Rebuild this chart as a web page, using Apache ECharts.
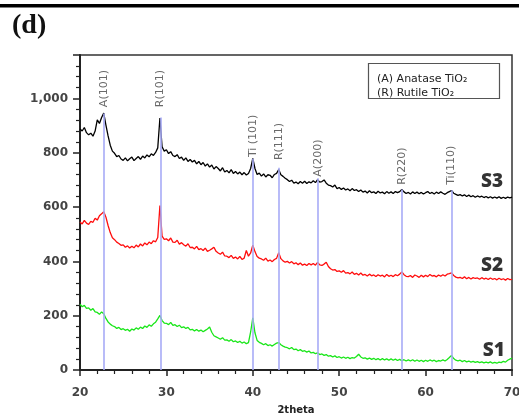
<!DOCTYPE html>
<html>
<head>
<meta charset="utf-8">
<script src="https://cdn.jsdelivr.net/npm/echarts@6/dist/echarts.min.js"></script>
<style>
  html, body { margin: 0; padding: 0; background: #fff; }
  #chart { width: 519px; height: 414px; }
</style>
</head>
<body>
<div id="chart"></div>
<script>
// Scan grid: 2theta from 20 to 70 degrees, 0.25 degree step
const scanStart = 20;
const scanStep = 0.25;

// Intensity (counts), one row per degree (4 steps each)
const s3 = [
  888, 880, 893, 874,  866, 872, 861, 880,  921, 908, 930, 946,  902, 862, 828, 806,
  798, 786, 790, 777,  772, 781, 770, 778,  784, 771, 779, 786,  776, 788, 781, 792,
  785, 796, 790, 801,  818, 928, 822, 806,  811, 797, 804, 790,  786, 793, 779, 784,
  772, 781, 768, 775,  766, 772, 759, 768,  756, 764, 751, 759,  747, 755, 740, 749,
  742, 733, 745, 729,  735, 726, 738, 724,  731, 722, 729, 719,  727, 718, 724, 742,
  779, 742, 720, 725,  714, 722, 711, 719,  717, 708, 720, 724,  738, 719, 713, 706,
  701, 694, 699, 688,  692, 686, 694, 688,  695, 687, 693, 689,  697, 690, 701, 692,
  694, 700, 688, 681,  679, 674, 681, 668,  672, 665, 670, 663,  667, 660, 668, 661,
  664, 657, 663, 655,  659, 652, 660, 653,  656, 650, 658, 652,  655, 649, 657, 651,
  656, 650, 657, 653,  657, 665, 656, 650,  654, 648, 656, 650,  655, 649, 654, 648,
  653, 657, 650, 654,  648, 655, 650, 656,  651, 647, 653, 657,  661, 651, 647, 643,
  646, 641, 645, 639,  644, 638, 642, 636,  641, 637, 640, 635,  639, 634, 638, 633,
  637, 633, 638, 632,  636, 632, 637, 634,  637
];

const s2 = [
  545, 538, 551, 541,  536, 547, 544, 559,  552, 568, 575, 583,  563, 532, 506, 487,
  480, 471, 466, 459,  461, 452, 457, 449,  456, 450, 460, 453,  464, 457, 468, 461,
  471, 465, 476, 472,  488, 606, 493, 481,  483, 476, 486, 471,  470, 478, 463, 469,
  461, 456, 465, 451,  452, 446, 455, 443,  447, 440, 449, 437,  441, 446, 452, 437,
  431, 426, 434, 420,  419, 414, 422, 411,  416, 409, 418, 407,  412, 440, 419, 431,
  460, 436, 418, 412,  409, 404, 412, 401,  405, 399, 407, 411,  432, 410, 402, 397,
  400, 394, 399, 391,  395, 388, 394, 386,  390, 385, 392, 387,  392, 386, 396, 387,
  385, 390, 397, 381,  373, 368, 370, 363,  365, 360, 366, 357,  359, 354, 361, 352,
  356, 350, 357, 349,  352, 346, 353, 347,  350, 344, 351, 346,  349, 343, 352, 345,
  349, 344, 351, 347,  353, 361, 351, 345,  344, 348, 341, 350,  346, 341, 349, 343,
  349, 344, 352, 346,  348, 343, 350, 345,  351, 346, 353, 355,  358, 348, 342, 339,
  341, 337, 343, 336,  341, 335, 340, 337,  339, 334, 340, 335,  338, 333, 339, 334,
  337, 332, 338, 333,  336, 331, 337, 333,  334
];

const s1 = [
  242, 233, 238, 227,  229, 220, 226, 214,  212, 205, 214, 207,  190, 177, 169, 163,
  160, 153, 157, 149,  152, 146, 150, 143,  151, 147, 155, 150,  158, 153, 162, 157,
  166, 161, 170, 176,  188, 201, 182, 173,  172, 167, 175, 164,  167, 160, 165, 156,
  159, 153, 157, 148,  150, 144, 149, 143,  147, 141, 146, 151,  158, 139, 126, 122,
  118, 113, 119, 110,  111, 106, 112, 104,  107, 101, 106, 99,   103, 97, 101, 140,
  192, 137, 109, 102,  98, 93, 97, 90,      93, 88, 94, 99,      101, 93, 88, 84,
  82, 78, 83, 75,      77, 71, 75, 69,      71, 66, 70, 63,      65, 60, 63, 57,
  59, 54, 57, 51,      53, 48, 52, 46,      49, 44, 48, 43,      47, 42, 46, 44,
  50, 58, 48, 43,      45, 40, 44, 39,      43, 38, 42, 37,      42, 37, 41, 36,
  41, 36, 40, 35,      39, 34, 38, 33,      37, 33, 38, 32,      37, 32, 36, 31,
  36, 32, 37, 33,      36, 31, 35, 33,      37, 33, 39, 46,      54, 42, 36, 34,
  36, 31, 35, 30,      33, 29, 32, 28,      31, 27, 30, 26,      29, 26, 30, 25,
  28, 25, 29, 27,      32, 29, 36, 40,      44
];

// Sample labels and where they sit (2theta, counts)
const sampleNames = ['S3', 'S2', 'S1'];
const sampleLabelAt = [[67.7, 692], [67.7, 386], [67.9, 72]];
const sampleColors = ['#000000', '#ff0d0d', '#19e619'];

// Indexed reflections
const peakNames = ['A(101)', 'R(101)', 'Ti (101)', 'R(111)', 'A(200)', 'R(220)', 'Ti(110)'];
const peakPos = [22.75, 29.3, 40.05, 43.05, 47.55, 57.25, 63.0];
const peakLineTop = [945, 930, 778, 745, 706, 665, 662];
const peakLabelBase = [968, 968, 784, 773, 712, 682, 682];

const toPairs = vals => vals.map((v, i) => [scanStart + i * scanStep, v]);

const chart = echarts.init(document.getElementById('chart'), null, { renderer: 'canvas' });

const axisFont = { fontSize: 12, fontWeight: 'bold', color: '#444', fontFamily: 'DejaVu Sans' };
const hiddenMark = { color: 'rgba(0,0,0,0)', borderWidth: 0 };

const series = [];

// Reference lines for the reflections
series.push({
  type: 'line',
  data: [],
  silent: true,
  z: 1,
  markLine: {
    silent: true,
    symbol: ['none', 'none'],
    animation: false,
    label: { show: false },
    lineStyle: { color: '#a7abf7', width: 1.6, type: 'solid' },
    data: peakPos.map((p, i) => [{ coord: [p, 0] }, { coord: [p, peakLineTop[i]] }])
  }
});

[s3, s2, s1].forEach((vals, k) => {
  series.push({
    type: 'line',
    name: sampleNames[k],
    data: toPairs(vals),
    showSymbol: false,
    symbol: 'none',
    lineStyle: { color: sampleColors[k], width: 1.3 },
    itemStyle: { color: sampleColors[k] },
    animation: false,
    z: 3
  });
});

// Reflection labels, written upward from the top of each line
series.push({
  type: 'scatter',
  symbolSize: 1,
  itemStyle: hiddenMark,
  silent: true,
  z: 5,
  data: peakPos.map((p, i) => ({ value: [p, peakLabelBase[i]], name: peakNames[i] })),
  label: {
    show: true,
    formatter: p => p.name,
    position: 'inside',
    align: 'left',
    verticalAlign: 'middle',
    rotate: 90,
    fontSize: 11,
    color: '#444',
    fontFamily: 'DejaVu Sans'
  }
});

// Sample names beside the traces
series.push({
  type: 'scatter',
  symbolSize: 1,
  itemStyle: hiddenMark,
  silent: true,
  z: 5,
  data: sampleLabelAt.map((c, i) => ({ value: c, name: sampleNames[i] })),
  label: {
    show: true,
    formatter: p => p.name,
    position: 'inside',
    align: 'center',
    verticalAlign: 'middle',
    fontSize: 19,
    fontWeight: 800,
    color: '#000',
    fontFamily: 'Open Sans'
  }
});

chart.setOption({
  animation: false,
  backgroundColor: '#fff',
  grid: {
    left: 80, right: 7, top: 55, bottom: 44,
    outerBoundsMode: 'none',
    containLabel: false,
    show: true, borderColor: '#333', borderWidth: 1.5, backgroundColor: 'transparent'
  },
  xAxis: {
    type: 'value', min: 20, max: 70, interval: 10,
    axisLine: { lineStyle: { color: '#222', width: 2 } },
    axisTick: { length: 6, lineStyle: { color: '#222', width: 1.5 } },
    minorTick: { show: true, splitNumber: 5, length: 4, lineStyle: { color: '#222', width: 1.2 } },
    splitLine: { show: false },
    minorSplitLine: { show: false },
    axisLabel: Object.assign({ margin: 17 }, axisFont),
    name: '2theta', nameLocation: 'middle', nameGap: 35,
    nameTextStyle: { fontSize: 10, fontWeight: 'bold', color: '#222', fontFamily: 'DejaVu Sans' }
  },
  yAxis: {
    type: 'value', min: 0, max: 1160, interval: 200,
    axisLine: { show: true, lineStyle: { color: '#222', width: 2 } },
    axisTick: { show: true, length: 7, lineStyle: { color: '#222', width: 1.5 } },
    minorTick: { show: true, splitNumber: 5, length: 4, lineStyle: { color: '#222', width: 1.2 } },
    splitLine: { show: false },
    minorSplitLine: { show: false },
    axisLabel: Object.assign({ margin: 12, showMaxLabel: false }, axisFont)
  },
  graphic: [
    { type: 'rect', shape: { x: 0, y: 4, width: 519, height: 3.5 }, style: { fill: '#000' }, silent: true },
    { type: 'text', left: 12, top: 12, style: { text: '(d)', font: 'bold 28px "Liberation Serif"', fill: '#111' }, silent: true },
    { type: 'rect', shape: { x: 368.5, y: 63.5, width: 131, height: 35 }, style: { fill: '#fff', stroke: '#555', lineWidth: 1.2 }, silent: true, z: 10 },
    { type: 'text', x: 377, y: 79, style: { text: '(A) Anatase TiO₂', font: '11px "DejaVu Sans"', fill: '#222', verticalAlign: 'middle' }, silent: true, z: 11 },
    { type: 'text', x: 377, y: 93, style: { text: '(R) Rutile TiO₂', font: '11px "DejaVu Sans"', fill: '#222', verticalAlign: 'middle' }, silent: true, z: 11 }
  ],
  series: series
});
</script>
</body>
</html>
